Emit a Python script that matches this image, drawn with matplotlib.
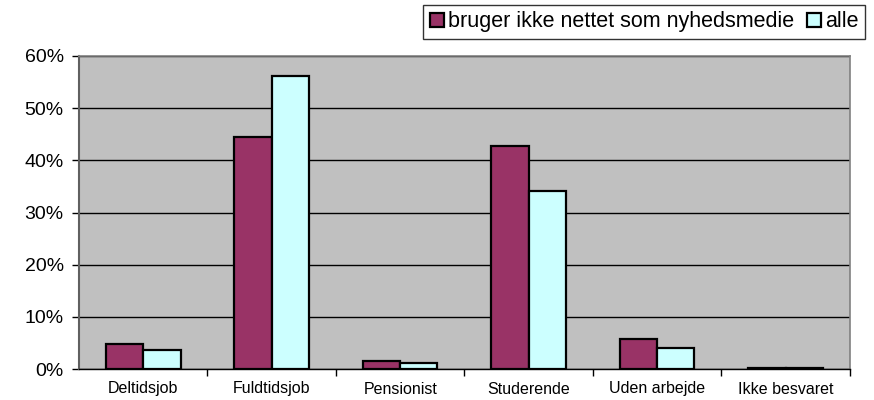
import matplotlib.pyplot as plt
import numpy as np
from matplotlib.ticker import PercentFormatter

plt.rcParams['font.family'] = ['Liberation Sans', 'DejaVu Sans']

# andel pr. beskæftigelsesgruppe (procent)
categories = ['Deltidsjob', 'Fuldtidsjob', 'Pensionist', 'Studerende', 'Uden arbejde', 'Ikke besvaret']
ikke_nettet = [4.8, 44.4, 1.5, 42.8, 5.7, 0.2]
alle = [3.7, 56.1, 1.2, 34.1, 4.1, 0.2]
series_labels = ['bruger ikke nettet som nyhedsmedie', 'alle']

barWidth = 0.29

fig = plt.figure(figsize=(8.74, 4.0), dpi=100)
ax = fig.add_axes([0.0904, 0.0775, 0.882, 0.7825])
ax.set_facecolor('#C0C0C0')

x = np.arange(len(categories))
ax.bar(x - barWidth / 2, ikke_nettet, barWidth, color='#993366', edgecolor='black',
       linewidth=1.6, label=series_labels[0], zorder=3)
ax.bar(x + barWidth / 2, alle, barWidth, color='#CCFFFF', edgecolor='black',
       linewidth=1.6, label=series_labels[1], zorder=3)

ax.set_xlim(-0.5, len(categories) - 0.5)
ax.set_ylim(0, 60)
ax.set_yticks(np.arange(0, 61, 10))
ax.yaxis.set_major_formatter(PercentFormatter(decimals=0))
ax.grid(axis='y', color='black', linewidth=1.0, zorder=1)
ax.set_axisbelow(True)

# labels centred, tick marks between categories
ax.set_xticks(x)
ax.set_xticklabels(categories, fontsize=11.5)
ax.set_xticks(np.arange(0.5, len(categories), 1), minor=True)
ax.tick_params(axis='x', which='major', length=0, pad=9)
ax.tick_params(axis='x', which='minor', length=5, width=1, color='black', direction='out')
ax.tick_params(axis='y', labelsize=14, length=5, width=1, direction='out', pad=6)

for side in ['top', 'right']:
    ax.spines[side].set_color('#808080')
    ax.spines[side].set_linewidth(1.2)
ax.spines['left'].set_color('#606060')
ax.spines['left'].set_linewidth(1.5)
ax.spines['bottom'].set_color('black')
ax.spines['bottom'].set_linewidth(1.0)

leg = fig.legend(loc='upper right', bbox_to_anchor=(0.99, 0.988), ncol=2, fontsize=15.5,
                 frameon=True, fancybox=False, shadow=False, edgecolor='black',
                 handlelength=0.65, handleheight=0.65, handletextpad=0.2,
                 columnspacing=0.6, borderpad=0.3, borderaxespad=0)
leg.get_frame().set_linewidth(1.0)

fig.savefig('out.png', dpi=100)
